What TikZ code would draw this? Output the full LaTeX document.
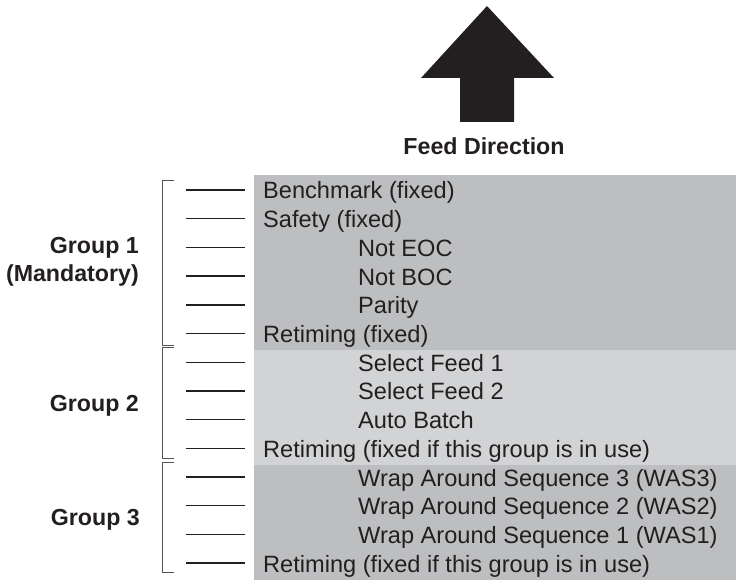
\documentclass[tikz,border=0pt]{standalone}
\usepackage{fontspec}
\setmainfont{Liberation Sans}
\begin{document}
\begin{tikzpicture}[x=1pt,y=-1pt,
  txt/.style={anchor=base west,inner sep=0pt,text=ink,font=\fontsize{23.6}{28}\selectfont},
  lbl/.style={anchor=base east,inner sep=0pt,text=ink,font=\fontsize{23.2}{28}\selectfont\bfseries},
  dashline/.style={draw=ink,line width=1.4pt},
  brack/.style={draw=brk,line width=1pt}]
\definecolor{ink}{HTML}{231F20}
\definecolor{gdark}{HTML}{BDBEC0}
\definecolor{glight}{HTML}{D2D3D5}
\definecolor{brk}{HTML}{555555}
\useasboundingbox (0,0) rectangle (736,580);
% backgrounds
\fill[gdark] (254,175) rectangle (736,350);
\fill[glight] (254,350) rectangle (736,465);
\fill[gdark] (254,465) rectangle (736,580);
% arrow
\fill[ink] (487,6) -- (554,78) -- (514,78) -- (514,122) -- (460,122) -- (460,78) -- (421,78) -- cycle;
\node[inner sep=0pt,text=ink,font=\fontsize{23.2}{28}\selectfont\bfseries,anchor=base] (feed) at (484,155) {Feed Direction};
% dashes
\foreach \i in {0,...,13}{
  \draw[dashline] (186,{190+28.7*\i}) -- (245,{190+28.7*\i});
}
% brackets
\draw[brack] (174,181) -- (162,181) -- (162,345) -- (174,345);
\draw[brack] (174,347) -- (162,347) -- (162,458) -- (174,458);
\draw[brack] (174,462) -- (162,462) -- (162,572) -- (174,572);
% group labels
\node[lbl] (g1) at (139,253) {Group 1};
\node[lbl] (g1m) at (139,281) {(Mandatory)};
\node[lbl] (g2) at (139,411) {Group 2};
\node[lbl] (g3) at (140,525) {Group 3};
% row texts
\node[txt] (r0) at (263,{199+28.7*0}) {Benchmark (fixed)};
\node[txt] (r1) at (263,{199+28.7*1}) {Safety (fixed)};
\node[txt] (r2) at (358,{199+28.7*2}) {Not EOC};
\node[txt] (r3) at (358,{199+28.7*3}) {Not BOC};
\node[txt] (r4) at (358,{199+28.7*4}) {Parity};
\node[txt] (r5) at (263,{199+28.7*5}) {Retiming (fixed)};
\node[txt] (r6) at (358,{199+28.7*6}) {Select Feed 1};
\node[txt] (r7) at (358,{199+28.7*7}) {Select Feed 2};
\node[txt] (r8) at (358,{199+28.7*8}) {Auto Batch};
\node[txt] (r9) at (263,{199+28.7*9}) {Retiming (fixed if this group is in use)};
\node[txt] (r10) at (358,{199+28.7*10}) {Wrap Around Sequence 3 (WAS3)};
\node[txt] (r11) at (358,{199+28.7*11}) {Wrap Around Sequence 2 (WAS2)};
\node[txt] (r12) at (358,{199+28.7*12}) {Wrap Around Sequence 1 (WAS1)};
\node[txt] (r13) at (263,{199+28.7*13}) {Retiming (fixed if this group is in use)};
\end{tikzpicture}
\end{document}
